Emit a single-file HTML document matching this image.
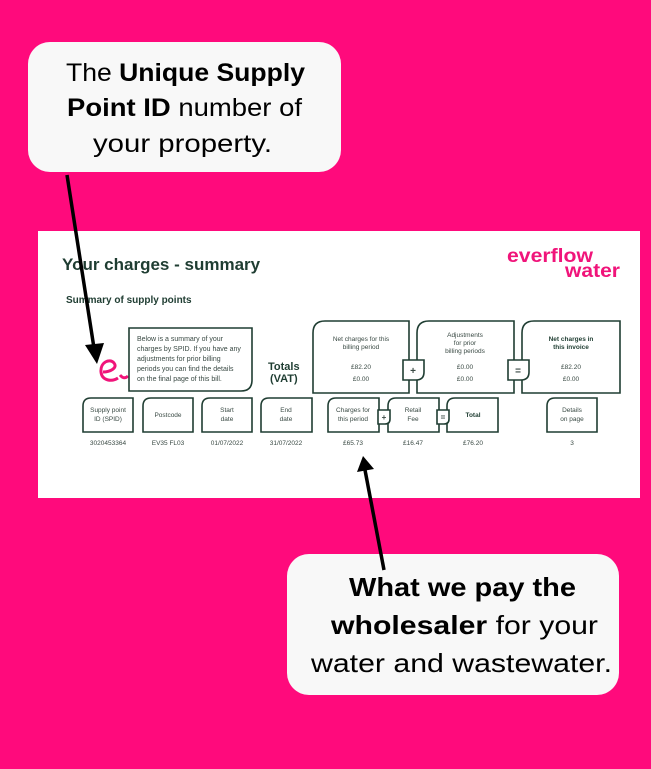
<!DOCTYPE html>
<html><head><meta charset="utf-8"><style>
body{margin:0;width:651px;height:764px;background:#ff0a7c;overflow:hidden;font-family:"Liberation Sans",sans-serif}
</style></head><body>
<svg width="651" height="764" viewBox="0 0 651 764" xmlns="http://www.w3.org/2000/svg" font-family="Liberation Sans, sans-serif">
<rect x="0" y="0" width="651" height="764" fill="#ff0a7c"/>
<rect x="38" y="231" width="602" height="267" fill="#fff"/>
<g fill="#1f3d32">
<text x="62" y="270" font-size="17" font-weight="bold">Your charges - summary</text>
<text x="66" y="303" font-size="10" font-weight="bold">Summary of supply points</text>
<text x="268" y="370" font-size="11" font-weight="bold">Totals</text>
<text x="270" y="382" font-size="11" font-weight="bold">(VAT)</text>
</g>
<text x="507" y="262" font-size="19" font-weight="bold" fill="#f0147a" textLength="86" lengthAdjust="spacingAndGlyphs">everflow</text>
<text x="565" y="277" font-size="19" font-weight="bold" fill="#f0147a" textLength="55" lengthAdjust="spacingAndGlyphs">water</text>
<path d="M103 372 C110 372 118 368 114 363 C110 358 100 362 101 372 C102 381 112 382 118 378 M120 375 Q124 380 128 376" stroke="#f0147a" stroke-width="3" fill="none"/>
<g fill="#fff" stroke="#1f3d32" stroke-width="1.6">
<path d="M129 328 H252 V380 Q252 391 241 391 H129 Z"/>
<path d="M325 321 H409 V393 H313 V333 Q313 321 325 321 Z"/>
<path d="M429 321 H514 V393 H417 V333 Q417 321 429 321 Z"/>
<path d="M534 321 H620 V393 H522 V333 Q522 321 534 321 Z"/>
<path d="M403 360 H424 V372 Q424 380 416 380 H403 Z"/>
<path d="M508 360 H529 V372 Q529 380 521 380 H508 Z"/>
<path d="M91 398 H133 V432 H83 V406 Q83 398 91 398 Z"/>
<path d="M151 398 H193 V432 H143 V406 Q143 398 151 398 Z"/>
<path d="M210 398 H252 V432 H202 V406 Q202 398 210 398 Z"/>
<path d="M269 398 H312 V432 H261 V406 Q261 398 269 398 Z"/>
<path d="M336 398 H379 V432 H328 V406 Q328 398 336 398 Z"/>
<path d="M396 398 H439 V432 H388 V406 Q388 398 396 398 Z"/>
<path d="M455 398 H498 V432 H447 V406 Q447 398 455 398 Z"/>
<path d="M555 398 H597 V432 H547 V406 Q547 398 555 398 Z"/>
<path d="M378 410 H390 V419 Q390 424 385 424 H378 Z"/>
<path d="M437 410 H449 V419 Q449 424 444 424 H437 Z"/>
</g>
<g fill="#3a4a44" font-size="7">
<text x="137" y="341">Below is a summary of your</text>
<text x="137" y="351">charges by SPID. If you have any</text>
<text x="137" y="361">adjustments for prior billing</text>
<text x="137" y="371">periods you can find the details</text>
<text x="137" y="381">on the final page of this bill.</text>
</g>
<g fill="#3a4a44" font-size="6.5" text-anchor="middle">
<text x="361" y="341">Net charges for this</text><text x="361" y="349">billing period</text>
<text x="361" y="369">£82.20</text><text x="361" y="381">£0.00</text>
<text x="465" y="337">Adjustments</text><text x="465" y="345">for prior</text><text x="465" y="353">billing periods</text>
<text x="465" y="369">£0.00</text><text x="465" y="381">£0.00</text>
<text x="571" y="341" font-weight="bold" fill="#1f3d32">Net charges in</text><text x="571" y="349" font-weight="bold" fill="#1f3d32">this invoice</text>
<text x="571" y="369">£82.20</text><text x="571" y="381">£0.00</text>
<text x="413" y="374" font-size="10" font-weight="bold">+</text>
<text x="518" y="374" font-size="10" font-weight="bold">=</text>
<text x="108" y="412">Supply point</text><text x="108" y="421">ID (SPID)</text>
<text x="168" y="417">Postcode</text>
<text x="227" y="412">Start</text><text x="227" y="421">date</text>
<text x="286" y="412">End</text><text x="286" y="421">date</text>
<text x="353" y="412">Charges for</text><text x="353" y="421">this period</text>
<text x="413" y="412">Retail</text><text x="413" y="421">Fee</text>
<text x="473" y="417" font-weight="bold" fill="#1f3d32">Total</text>
<text x="572" y="412">Details</text><text x="572" y="421">on page</text>
<text x="384" y="420" font-size="8" font-weight="bold">+</text>
<text x="443" y="420" font-size="8" font-weight="bold">=</text>
<text x="108" y="445">3020453364</text>
<text x="168" y="445">EV35 FL03</text>
<text x="227" y="445">01/07/2022</text>
<text x="286" y="445">31/07/2022</text>
<text x="353" y="445">£65.73</text>
<text x="413" y="445">£16.47</text>
<text x="473" y="445">£76.20</text>
<text x="572" y="445">3</text>
</g>
<rect x="28" y="42" width="313" height="130" rx="22" fill="#f8f8f8"/>
<g font-size="25" fill="#000" lengthAdjust="spacingAndGlyphs">
<text x="66" y="81" textLength="239" lengthAdjust="spacingAndGlyphs">The <tspan font-weight="bold">Unique Supply</tspan></text>
<text x="67" y="116" textLength="235" lengthAdjust="spacingAndGlyphs"><tspan font-weight="bold">Point ID</tspan> number of</text>
<text x="93" y="152" textLength="179" lengthAdjust="spacingAndGlyphs">your property.</text>
</g>
<rect x="287" y="554" width="332" height="141" rx="22" fill="#f8f8f8"/>
<g font-size="26" fill="#000">
<text x="349" y="596" font-weight="bold" textLength="227" lengthAdjust="spacingAndGlyphs">What we pay the</text>
<text x="331" y="634" textLength="267" lengthAdjust="spacingAndGlyphs"><tspan font-weight="bold">wholesaler</tspan> for your</text>
<text x="311" y="672" textLength="301" lengthAdjust="spacingAndGlyphs">water and wastewater.</text>
</g>
<g stroke="#000" stroke-width="3.5">
<line x1="67" y1="175" x2="94" y2="348"/>
<line x1="384" y1="570" x2="365" y2="470"/>
</g>
<polygon points="85,345 104,343 97,364" fill="#000"/>
<polygon points="357,472 374,469 363,456" fill="#000"/>
</svg>
</body></html>
